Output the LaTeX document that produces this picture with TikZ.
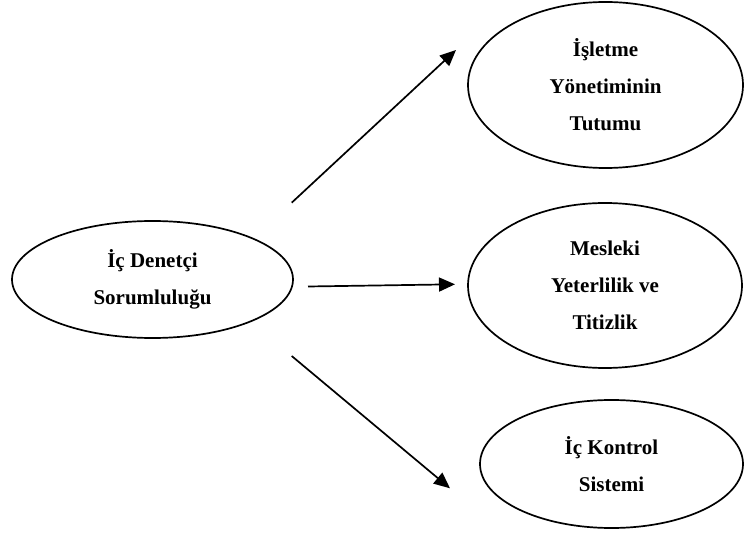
\documentclass[tikz,border=0pt]{standalone}
\usepackage{fontspec}
\setmainfont{Liberation Serif}
\usetikzlibrary{shapes.geometric,arrows.meta}
\begin{document}
\begin{tikzpicture}[x=1pt,y=-1pt,
  oval/.style={ellipse,draw=black,line width=1.7pt,inner sep=0pt,outer sep=0pt,
    align=center,font=\fontsize{21}{37}\selectfont\bfseries},
  link/.style={line width=1.7pt,-{Triangle[length=16pt,width=14pt]}}]
  \useasboundingbox (0,0) rectangle (744,534);
  % cause
  \node[oval,minimum width=281pt,minimum height=117pt] (src) at (152.5,279.5)
    {İç Denetçi\\Sorumluluğu};
  % effects
  \node[oval,minimum width=275pt,minimum height=166pt] (top) at (605.5,85)
    {İşletme\\Yönetiminin\\Tutumu};
  \node[oval,minimum width=274pt,minimum height=165pt] (mid) at (605,285.5)
    {Mesleki\\Yeterlilik ve\\Titizlik};
  \node[oval,minimum width=263pt,minimum height=128pt] (bot) at (611.5,464)
    {İç Kontrol\\Sistemi};
  % arrow ends
  \coordinate (s1) at (291.7,202.7);
  \coordinate (e1) at (456,50);
  \coordinate (s2) at (308,286.5);
  \coordinate (e2) at (455,284.3);
  \coordinate (s3) at (291.7,356);
  \coordinate (e3) at (450,488.3);
  \draw[link] (s1) -- (e1);
  \draw[link] (s2) -- (e2);
  \draw[link] (s3) -- (e3);
\end{tikzpicture}
\end{document}
